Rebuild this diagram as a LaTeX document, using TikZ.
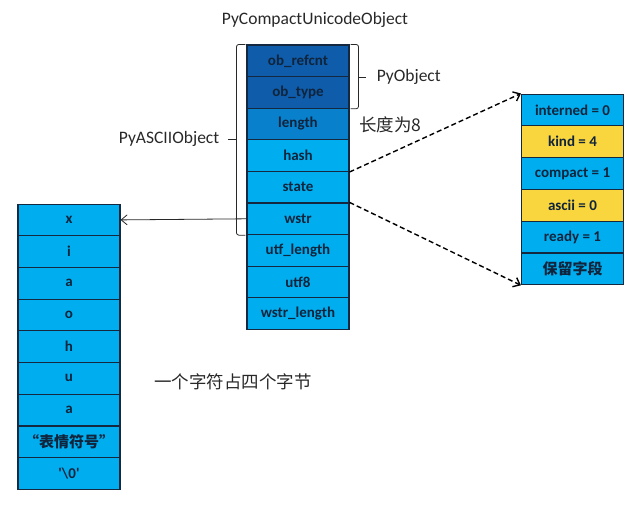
\documentclass[tikz,border=0pt]{standalone}
\usepackage{fontspec}
\setmainfont{Carlito}
\newfontfamily\cjk{Noto Sans CJK SC}
\usepackage{xcolor}
\usetikzlibrary{arrows.meta,positioning,calc}

\definecolor{objdark}{RGB}{14,92,170}
\definecolor{objmid}{RGB}{8,128,204}
\definecolor{objlight}{RGB}{0,174,239}
\definecolor{flaggold}{RGB}{250,214,62}
\definecolor{cellline}{RGB}{20,40,64}
\definecolor{celltext}{RGB}{16,36,60}
\definecolor{labeltext}{RGB}{40,40,40}

\begin{document}
\begin{tikzpicture}[
    x=1pt, y=-1pt,
    cell/.style={rectangle, draw=cellline, line width=1.1pt, fill=objlight,
                 minimum width=102pt, minimum height=31.7pt, inner sep=0pt,
                 font=\fontsize{15}{17}\selectfont\bfseries, text=celltext},
    head/.style={cell, fill=objdark},
    flag/.style={cell, fill=flaggold},
    lbl/.style={font=\fontsize{17.5}{20}\selectfont, text=labeltext, inner sep=1pt},
    cjklbl/.style={font=\cjk\fontsize{17.5}{20}\selectfont, text=labeltext, inner sep=1pt},
    brace/.style={draw=labeltext, line width=0.8pt, rounded corners=2.5pt},
    >={Straight Barb[length=6pt,width=10pt]}
]
\useasboundingbox (0,0) rectangle (640,504);

% --- PyCompactUnicodeObject column ---
\node[head] (refcnt) at (298,60.8)  {ob\_refcnt};
\node[head] (otype)  at (298,92.4)  {ob\_type};
\node[cell, fill=objmid] (len) at (298,124) {length};
\node[cell] (hash)   at (298,155.6) {hash};
\node[cell] (state)  at (298,187.2) {state};
\node[cell] (wstr)   at (298,218.8) {wstr};
\node[cell] (ulen)   at (298,250.4) {utf\_length};
\node[cell] (utf)    at (298,282)   {utf8};
\node[cell] (wlen)   at (298,313.6) {wstr\_length};

\node[lbl] (title) at (315,20) {PyCompactUnicodeObject};

% --- state bit fields ---
\node[cell] (interned) at (572.5,109.9) {interned = 0};
\node[flag] (kind)     at (572.5,141.7) {kind = 4};
\node[cell] (compact)  at (572.5,173.5) {compact = 1};
\node[flag] (ascii)    at (572.5,205.3) {ascii = 0};
\node[cell] (ready)    at (572.5,237.1) {ready = 1};
\node[cell] (reserve)  at (572.5,268.9) {\cjk\bfseries 保留字段};

% --- wstr buffer ---
\node[cell] (cx)   at (69,219.9) {x};
\node[cell] (ci)   at (69,251.6) {i};
\node[cell] (ca)   at (69,283.3) {a};
\node[cell] (co)   at (69,315)   {o};
\node[cell] (ch)   at (69,346.7) {h};
\node[cell] (cu)   at (69,378.4) {u};
\node[cell] (ca2)  at (69,410.1) {a};
\node[cell] (cemo) at (69,441.8) {\cjk\bfseries “表情符号”};
\node[cell] (cend) at (69,473.5) {\textquotesingle\textbackslash 0\textquotesingle};

% --- braces ---
\draw[brace] ([xshift=1pt]refcnt.north east) -- ++(8,0) |- ([xshift=1pt]otype.south east);
\draw[brace] ($(refcnt.south east)+(9,0)$) -- ++(7,0) coordinate (pyobj);
\node[lbl, right=10pt of pyobj] (pyobjlbl) {PyObject};

\draw[brace] ([xshift=-1pt]refcnt.north west) -- ++(-9,0) |- ([xshift=-1pt]wstr.south west);
\draw[brace] ($(hash.north west)+(-10,0)$) -- ++(-8,0) coordinate (pyascii);
\node[lbl, left=8pt of pyascii] (pyasciilbl) {PyASCIIObject};

\node[cjklbl, anchor=west] (lennote) at (358,125) {长度为8};
\node[cjklbl, anchor=west] (bytenote) at (153,382) {一个字符占四个字节};

% --- pointers ---
\draw[->, draw=labeltext, line width=0.8pt] (wstr.west) -- (cx.east);
\draw[->, dash pattern=on 5pt off 3pt, line width=1.4pt] (hash.south east) -- (interned.north west);
\draw[->, dash pattern=on 5pt off 3pt, line width=1.4pt] (wstr.north east) -- (reserve.south west);
\end{tikzpicture}
\end{document}
